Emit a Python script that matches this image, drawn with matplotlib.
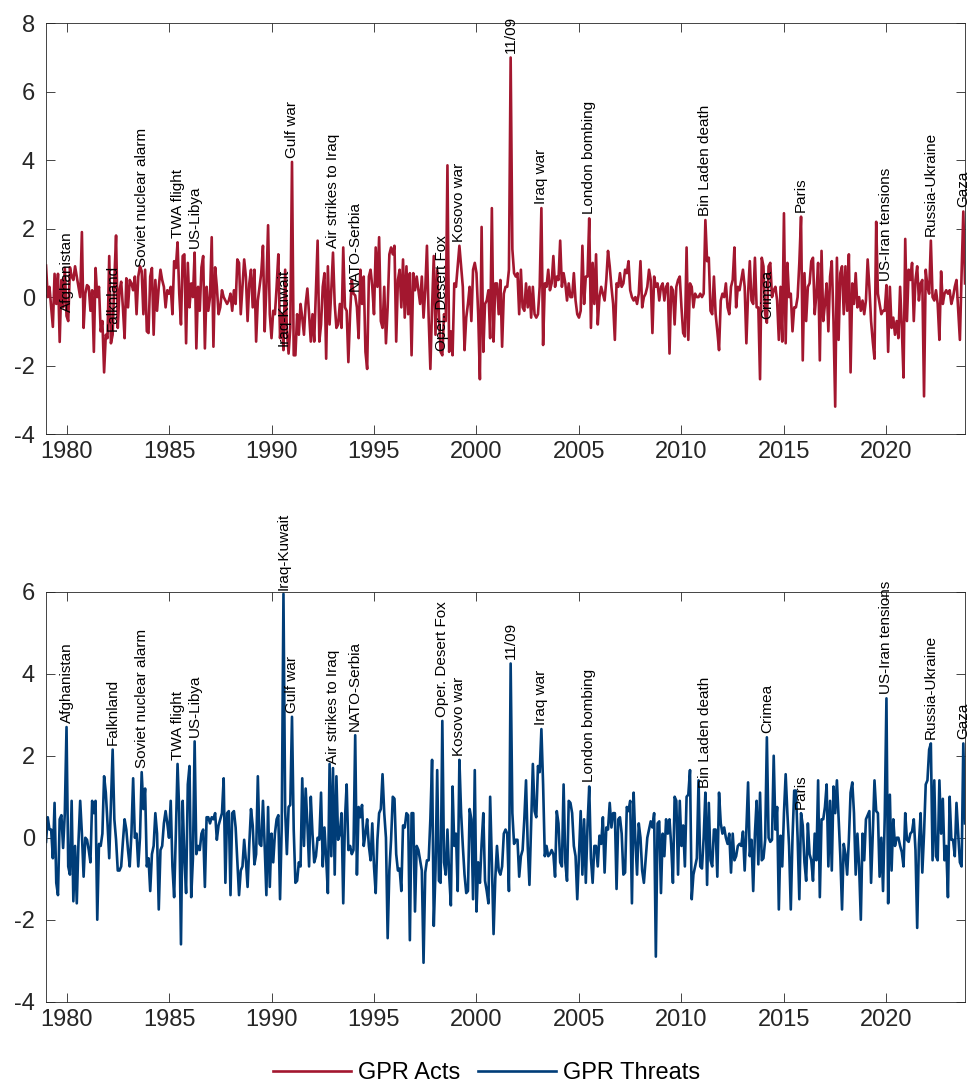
import numpy as np
import matplotlib
matplotlib.use('Agg')
import matplotlib.pyplot as plt

plt.rcParams['font.family'] = ['Liberation Sans', 'DejaVu Sans']
plt.rcParams['axes.unicode_minus'] = False

# GPR Acts, monthly, Jan 1979 - Nov 2023
acts = [
    0.92, 0.0, 0.3, -0.3, -0.87, 0.68, -0.2, 0.68, -1.31, 0.5, -0.3, 0.85,   # 1979
    -0.55, -0.7, 0.87, 0.6, 0.5, 0.9, 0.6, 0.3, 0.0, 1.9, -0.9, 0.1,         # 1980
    0.35, 0.3, -0.4, 0.2, -1.6, 0.85, 0.0, 0.3, -1.0, -0.7, -2.2, -1.1,      # 1981
    -1.2, 1.2, -1.35, -1.1, 0.5, 1.8, -0.9, 0.2, 0.45, -0.3, -1.2, 0.55,     # 1982
    -0.3, 0.5, 0.4, 0.2, 0.6, -0.5, 0.6, 0.9, 0.76, -0.5, 0.8, -1.0,         # 1983
    -1.05, 0.6, 0.85, -1.1, 0.5, -0.4, 0.3, 0.8, 0.5, 0.3, -0.3, 0.2,        # 1984
    0.1, 0.3, -0.5, 1.05, 0.85, 1.6, 0.1, -0.8, 1.2, 1.25, -1.35, 1.0,       # 1985
    -0.3, 0.4, 0.0, 1.3, -1.5, 0.3, -0.4, 0.87, 1.2, -1.5, 0.3, -0.4,        # 1986
    0.0, 1.75, -1.45, 0.87, 0.3, -0.5, -0.3, 0.2, 0.0, -0.1, -0.2, -0.1,     # 1987
    0.1, -0.4, 0.2, -0.2, 1.1, 1.0, -0.5, 0.3, 1.1, 0.6, -0.7, 0.4,          # 1988
    0.8, -0.3, 0.8, -1.3, -0.1, 0.3, 0.7, 1.5, -1.0, 0.3, 2.1, -0.5,         # 1989
    -1.2, -0.4, -0.5, 0.3, 1.25, -1.2, -0.5, -1.55, 0.8, -1.0, -1.65, -0.9,  # 1990
    3.95, -1.7, -1.7, -0.5, -1.1, -0.2, -0.6, -1.1, -0.2, 0.25, -0.5, -1.3,  # 1991
    -0.5, -1.3, 0.2, 1.65, -1.3, -0.8, 0.3, 0.7, -1.8, 0.9, -0.8, 0.2,       # 1992
    1.3, -0.2, -0.9, -0.8, -0.2, -0.9, 1.45, -0.3, -0.4, -1.9, -0.5, 0.5,    # 1993
    0.1, 0.05, -0.3, -1.2, 0.8, -0.2, 0.6, -1.6, -2.1, 0.6, 0.8, 0.3,        # 1994
    -0.5, 1.45, 0.3, 1.75, -0.7, -0.9, 0.3, -1.35, -0.3, 1.25, 1.45, 1.25,   # 1995
    1.5, -1.3, 0.5, 0.8, -0.3, 1.1, -0.6, 0.9, -0.5, 0.7, -1.7, 0.7,         # 1996
    0.2, 0.6, 0.2, -0.2, 0.6, -0.6, 0.2, 1.5, -0.6, -2.1, -0.3, 1.2,         # 1997
    -1.1, 0.8, -0.5, -1.6, -1.7, -0.5, -0.7, 3.85, -1.6, -1.0, -1.7, 0.4,    # 1998
    0.3, 0.9, 1.5, 0.9, 0.3, -1.55, -0.6, -0.2, 0.3, -0.7, 0.8, 1.0,         # 1999
    0.7, -0.5, -2.4, 2.05, -1.6, -0.2, -0.1, 0.2, -1.2, 2.6, -1.3, 0.4,      # 2000
    0.4, -0.5, 0.5, -1.45, 0.1, 0.3, 0.3, 0.8, 7.0, 1.4, 0.7, 0.6,           # 2001
    0.7, -0.5, 0.8, -0.3, -0.4, 0.4, -0.3, 0.3, -0.6, 0.3, -0.5, -0.6,       # 2002
    -0.5, 0.3, 2.6, -1.4, 0.4, 0.3, 0.8, 0.2, 0.4, 1.2, 0.3, 0.6,            # 2003
    0.5, 1.65, 0.3, 0.7, 0.4, -0.1, 0.4, 0.0, 0.0, 0.7, -0.1, -0.5,          # 2004
    -0.6, -0.4, 1.5, -0.2, 0.6, 0.6, 2.3, -0.9, 1.0, -0.2, 1.25, -0.8,       # 2005
    0.0, 0.3, 0.1, -0.1, 0.5, 1.35, 0.9, 0.3, -0.2, -1.25, 0.4, 0.3,         # 2006
    0.7, 0.3, 0.4, 0.8, 0.7, 1.05, 0.2, 0.0, -0.1, 0.0, -0.2, 0.1,           # 2007
    1.05, -0.3, 0.0, 0.1, 0.3, 0.8, 0.5, -1.05, 0.6, 0.3, 0.4, -0.1,         # 2008
    0.3, 0.4, -0.1, 0.3, 0.4, -1.65, 0.3, 0.2, -0.8, 0.3, 0.5, 0.6,          # 2009
    -0.3, -1.05, -1.15, 1.45, -1.25, 0.4, 0.3, -0.3, 0.1, 0.0, 0.0, 0.1,     # 2010
    0.0, 0.1, 2.25, 1.05, 1.15, -0.4, -0.5, 0.6, -0.5, -1.0, -1.55, -0.1,    # 2011
    0.1, 0.0, 0.4, -0.3, -0.5, 0.3, 0.5, 1.45, -0.3, 0.3, 0.2, 0.5,          # 2012
    0.8, 0.3, -1.35, 0.1, 1.05, -0.1, -0.2, 1.15, -0.3, -0.3, -2.4, 1.15,    # 2013
    0.9, -0.5, -0.75, 0.9, 1.0, 0.0, 0.2, 0.3, -0.1, -1.25, 0.3, -1.3,       # 2014
    2.45, -1.35, 1.0, 0.0, 0.1, -1.0, -0.3, -0.3, 0.0, 1.0, 2.35, -1.85,     # 2015
    0.7, -0.7, 0.3, 0.4, 1.05, 1.15, -0.5, 0.1, 1.0, -1.85, 1.35, -0.7,      # 2016
    -0.2, 0.4, -1.0, 0.6, 1.05, -0.7, -3.2, 1.15, -1.25, 0.7, 0.9, -0.5,     # 2017
    0.9, -0.4, 1.25, -2.2, 0.4, -0.2, 0.7, -0.3, 0.0, -0.4, -0.1, -0.5,      # 2018
    -0.1, 1.1, 0.3, -0.7, -1.3, -1.8, 2.2, 0.1, -0.2, -0.5, -0.4, -0.4,      # 2019
    0.35, -1.6, 0.3, -0.9, -0.6, -1.1, -0.7, -1.2, 0.3, -0.9, -2.35, 1.7,    # 2020
    -0.7, 0.8, 0.5, 1.0, -0.7, 0.5, 0.9, -0.1, 0.4, 0.5, -2.9, 0.8,          # 2021
    0.3, 0.1, 1.65, 0.0, -0.1, 0.2, -0.2, -1.25, 0.75, -0.2, 0.1, 0.2,       # 2022
    0.1, 0.2, -0.2, 0.0, 0.3, 0.5, -0.4, -1.25, 0.7, 2.5, 0.4,               # 2023
]

# GPR Threats, monthly, Jan 1979 - Nov 2023
threats = [
    -0.1, 0.5, 0.2, 0.2, -0.5, 0.85, -1.1, -1.4, 0.45, 0.55, -0.25, 0.6,     # 1979
    2.7, -0.7, -0.9, 0.9, -1.55, -0.2, -1.6, -0.1, 0.9, 0.1, -0.95, 0.0,     # 1980
    -0.05, -0.3, -0.6, 0.9, 0.6, 0.9, -2.0, -0.15, -0.2, 0.1, 1.5, 1.1,      # 1981
    0.35, -0.5, 0.8, 2.15, 0.45, -0.05, -0.8, -0.8, -0.7, -0.1, 0.45, 0.2,   # 1982
    -0.3, -0.7, 0.1, 1.45, 0.0, 0.1, -0.7, 0.0, 1.6, 0.7, 1.2, -0.7,         # 1983
    -0.5, -1.3, -0.4, -0.2, 0.6, 0.1, -1.75, -0.3, -0.2, 0.35, 0.65, 0.35,   # 1984
    0.0, 0.9, -0.7, -1.45, 0.1, 1.8, 0.6, -2.6, 0.9, -0.5, -1.35, 1.3,       # 1985
    1.75, -1.45, -0.5, 2.35, -0.4, -0.2, -0.3, 0.1, 0.2, -1.2, 0.5, 0.5,     # 1986
    0.35, 0.5, 0.45, 0.6, -0.05, 0.3, 0.45, 0.6, 1.45, -1.1, 0.6, 0.65,      # 1987
    -1.4, 0.6, 0.65, 0.25, -0.6, -1.4, -0.8, -0.7, -0.05, -0.55, -1.2, -0.15,  # 1988
    0.7, 0.3, -0.65, -0.4, 1.5, -0.15, -0.2, 0.9, -0.2, -1.4, 0.75, -1.2,    # 1989
    0.1, -0.6, 0.1, 0.45, 0.55, -1.5, 0.3, 5.95, 0.65, -0.4, 0.75, 0.8,      # 1990
    2.95, 0.2, -1.1, -1.05, -0.6, -0.7, 1.45, -0.2, 1.2, 0.35, -0.7, 1.0,    # 1991
    0.1, -0.6, -0.45, 0.0, -0.05, 1.1, -0.7, 0.25, -0.5, -1.35, 1.8, -0.45,  # 1992
    1.7, -0.9, 1.5, -0.05, 0.1, 0.6, -1.6, 0.45, 1.3, -0.3, -0.2, -0.4,      # 1993
    -0.3, 2.5, -0.9, 0.75, 0.5, 0.8, -0.2, 0.1, 0.45, -0.2, -0.55, 0.35,     # 1994
    -0.7, -1.35, -0.05, 0.6, 0.7, 1.55, 0.6, 0.0, -2.45, -0.8, -0.05, 1.0,   # 1995
    0.95, -0.4, -0.8, -0.75, -1.3, 0.3, 0.25, 0.6, 0.55, -2.5, 0.6, 0.6,     # 1996
    -1.8, -0.2, -0.3, -0.55, -0.8, -3.05, -0.85, -0.55, -0.55, 0.45, 1.9, -2.15,  # 1997
    -0.8, 1.65, -1.05, -1.1, 2.85, -0.6, -0.9, 0.2, -0.9, -1.65, 1.25, -0.2,  # 1998
    0.1, -1.3, 1.9, 0.6, -0.2, -0.9, -1.35, -1.3, 0.7, 0.45, -1.5, 1.65,     # 1999
    -1.8, -0.6, -1.1, -0.15, 0.6, -1.05, -1.3, -1.6, 1.0, -0.6, -2.35, -1.0,  # 2000
    -0.2, -0.8, -0.9, -0.7, 0.1, 0.2, 0.1, -1.3, 4.25, 0.6, -0.15, -0.05,    # 2001
    -0.05, -0.95, -0.45, -0.3, 0.45, 1.4, -0.2, -1.15, 0.35, 1.8, 0.65, 0.5,  # 2002
    1.75, 1.6, 2.65, 1.3, -0.45, -0.2, -0.45, -0.4, -0.3, -0.4, -0.95, 0.65,  # 2003
    0.35, -0.6, -0.7, 1.3, -0.6, -1.05, 0.9, 0.85, 0.6, -0.2, -0.45, -1.5,   # 2004
    -0.45, 0.65, -0.9, 0.45, -1.1, 0.3, 1.25, -0.5, -1.1, -0.2, -0.2, -0.7,  # 2005
    0.05, -0.15, 0.5, -0.85, 0.25, 0.2, 0.85, 0.25, 0.6, 0.6, -1.25, 0.45,   # 2006
    0.5, 0.1, -0.9, -0.85, 0.75, 0.65, 0.9, -1.6, 1.1, -0.05, -0.9, 0.35,    # 2007
    0.0, -0.8, -1.1, -0.55, 0.0, 0.2, 0.4, 0.25, 0.6, -2.9, 0.35, 0.4,       # 2008
    -1.35, 0.1, -0.45, 0.45, 0.1, 0.45, -0.2, -1.1, 1.0, 0.9, -0.9, 0.9,     # 2009
    -0.2, 0.3, -0.7, 1.0, 1.05, 1.65, -1.5, -0.9, -0.7, -0.5, 1.4, -0.7,     # 2010
    -0.75, 0.0, 1.1, -1.15, 0.85, -0.55, -0.7, 0.2, 0.2, -0.95, 1.1, 0.35,   # 2011
    0.1, 0.25, 0.0, -0.15, 0.1, -0.85, 0.1, -0.55, -0.45, -0.2, -0.15, -0.2,  # 2012
    0.15, -0.8, 0.2, 1.35, -0.45, -0.05, -1.3, 0.1, 0.9, -0.65, 1.1, -0.55,  # 2013
    -0.5, -0.05, 2.45, 0.0, -0.1, -0.05, 2.0, 0.2, 0.75, -1.75, 0.05, -0.7,  # 2014
    0.6, 1.55, 0.6, -0.2, -1.75, 0.0, 1.15, 1.15, 0.0, -1.5, 0.6, 0.3,       # 2015
    -0.6, -1.05, 0.35, -0.4, -0.55, -1.05, 0.1, -0.55, 1.4, -1.45, 0.45, 0.45,  # 2016
    0.75, 1.3, -0.7, 0.9, -0.8, 1.25, 0.6, 1.4, 0.45, -0.45, -1.75, -0.15,   # 2017
    -0.4, -0.9, -0.05, 1.1, 1.35, 0.6, -0.9, 0.1, -0.7, -2.0, 0.1, -0.55,    # 2018
    0.45, 0.55, 0.65, -1.1, 0.1, 1.4, 0.65, 0.6, -0.95, 0.0, -1.3, 0.5,      # 2019
    3.4, -1.6, 1.05, -0.8, 0.45, -0.2, 0.0, 0.0, -0.2, -0.35, -0.7, 0.6,     # 2020
    -0.05, -0.1, 0.1, 0.15, 0.45, -0.3, -2.2, -0.15, 0.6, -0.85, 0.1, 1.3,   # 2021
    1.4, 2.15, 2.3, -0.55, 1.4, -0.45, -0.55, 1.4, 0.1, 0.95, -0.55, -0.2,   # 2022
    -1.45, 1.0, -0.05, -0.05, -0.45, 0.85, 0.1, -0.6, -0.7, 2.3, 0.35,       # 2023
]

event_names = ['Afghanistan', 'Falknland', 'Soviet nuclear alarm', 'TWA flight', 'US-Libya',
               'Iraq-Kuwait', 'Gulf war', 'Air strikes to Iraq', 'NATO-Serbia',
               'Oper. Desert Fox', 'Kosovo war', '11/09', 'Iraq war', 'London bombing',
               'Bin Laden death', 'Crimea', 'Paris', 'US-Iran tensions', 'Russia-Ukraine', 'Gaza']
event_months = ['1980-01', '1982-04', '1983-09', '1985-06', '1986-04',
                '1990-08', '1991-01', '1993-01', '1994-02',
                '1998-05', '1999-03', '2001-09', '2003-03', '2005-07',
                '2011-03', '2014-03', '2015-11', '2020-01', '2022-03', '2023-10']

start_year = 1979
dates = start_year + np.arange(len(acts)) / 12.0
event_idx = [(int(s[:4]) - start_year) * 12 + int(s[5:]) - 1 for s in event_months]

red = '#a3172f'
blue = '#003d78'
axis_col = '#262626'

fig = plt.figure(figsize=(9.73, 10.88), dpi=100)
ax1 = fig.add_axes([0.0473, 0.6011, 0.9445, 0.3775])
ax2 = fig.add_axes([0.0473, 0.0793, 0.9445, 0.3768])

panels = [(ax1, acts, red, (-4, 8), 'GPR Acts'),
          (ax2, threats, blue, (-4, 6), 'GPR Threats')]

handles = []
for ax, series, color, ylim, name in panels:
    h, = ax.plot(dates, series, color=color, lw=1.9, label=name)
    handles.append(h)
    ax.set_xlim(start_year, dates[-1])
    ax.set_ylim(*ylim)
    ax.set_xticks(range(1980, 2021, 5))
    ax.set_yticks(range(ylim[0], ylim[1] + 1, 2))
    ax.tick_params(direction='in', top=True, right=True, length=6.5, width=0.6,
                   colors=axis_col, labelsize=17)
    ax.tick_params(axis='y', pad=8)
    ax.tick_params(axis='x', pad=5)
    for sp in ax.spines.values():
        sp.set_color(axis_col)
        sp.set_linewidth(0.6)
    for nm, i in zip(event_names, event_idx):
        ax.annotate(nm, (dates[i], series[i]), xytext=(0, 3), textcoords='offset points',
                    rotation=90, rotation_mode='anchor', ha='left', va='center',
                    fontsize=11, color='black')

fig.legend(handles, [h.get_label() for h in handles], loc='center',
           bbox_to_anchor=(0.5, 0.0138), ncol=2, frameon=False, fontsize=17,
           handlelength=3.3, handletextpad=0.3, columnspacing=0.75)

fig.savefig('out.png', dpi=100)
